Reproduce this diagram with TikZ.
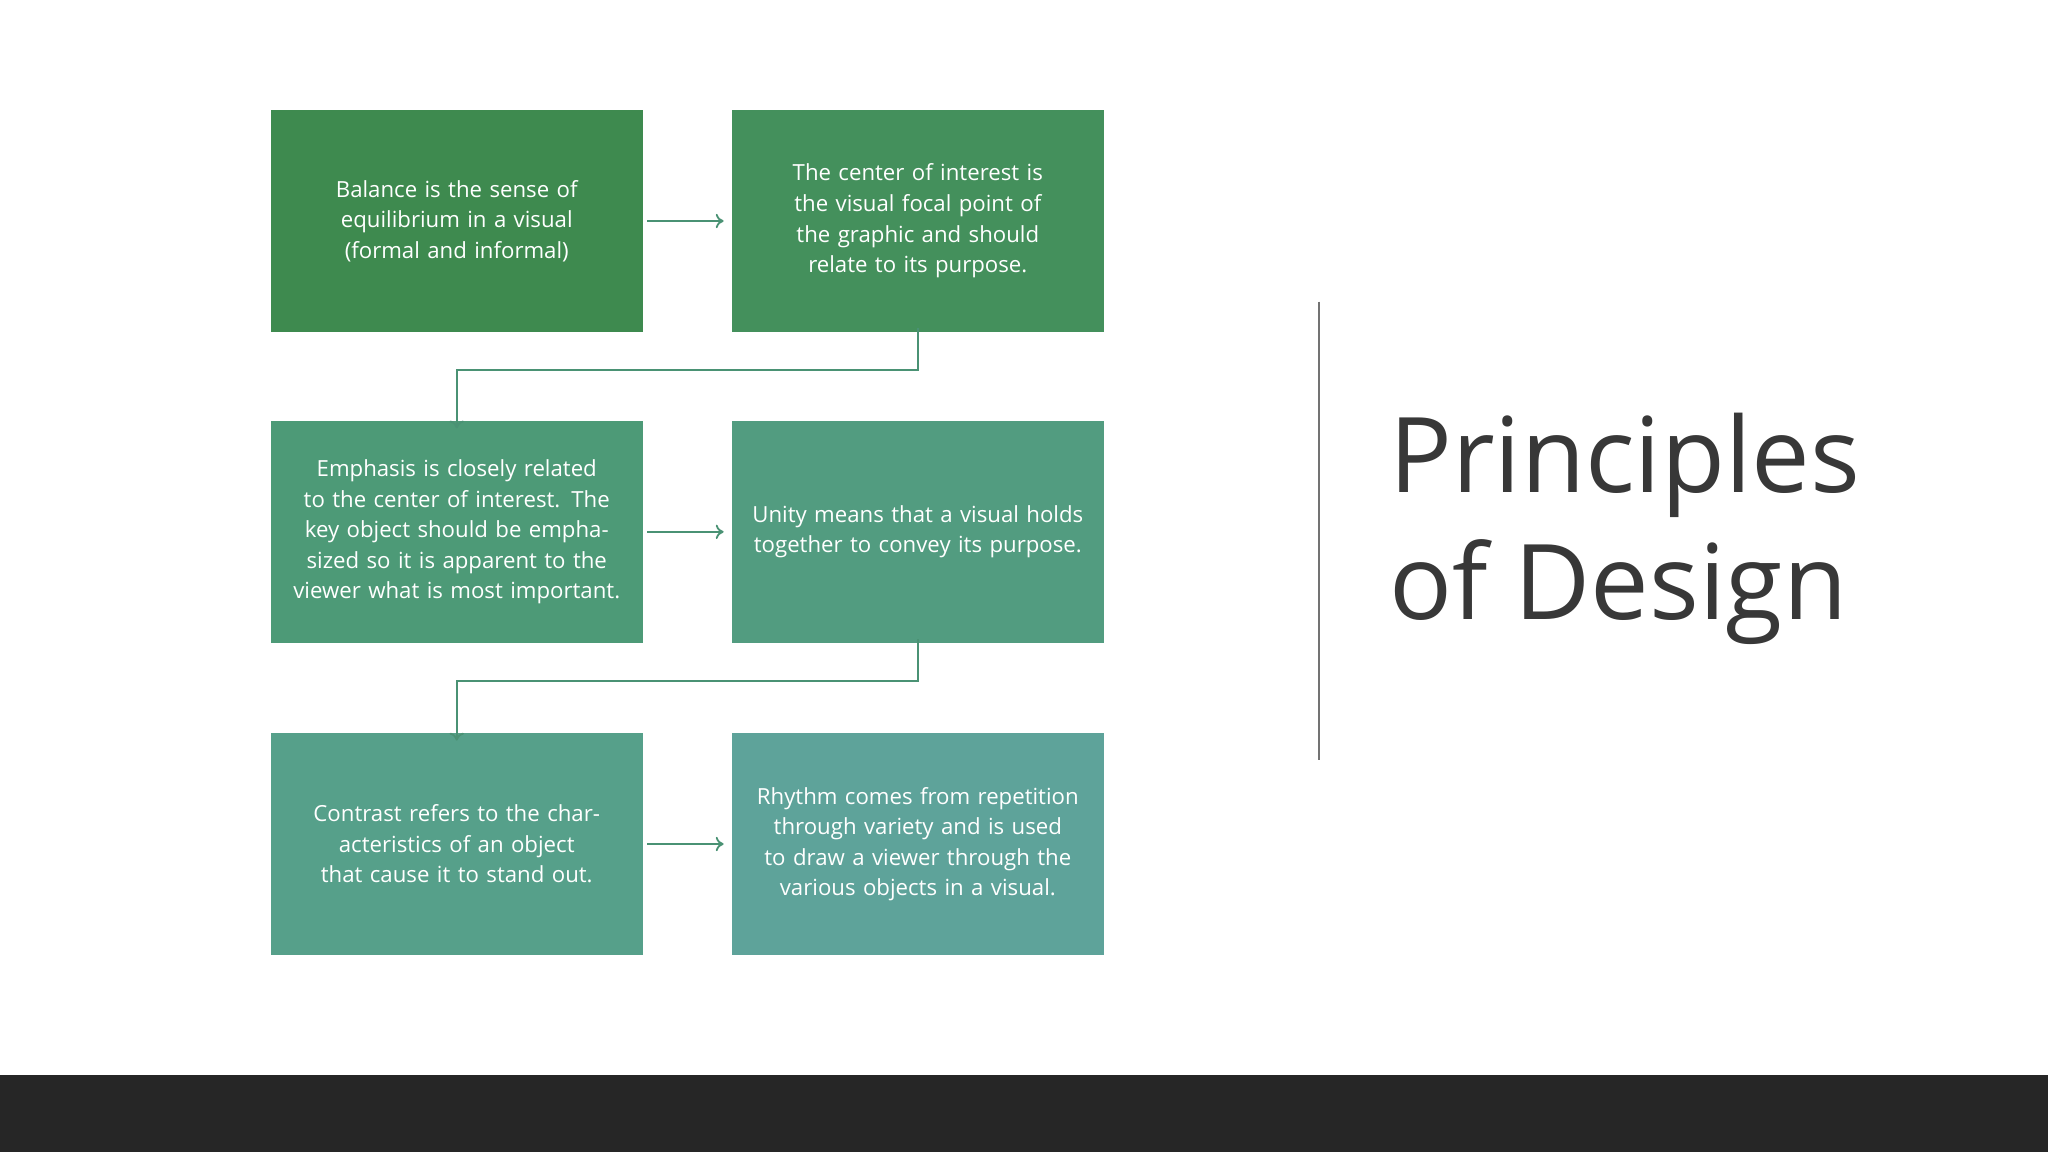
\documentclass[tikz,border=0pt]{standalone}
\usepackage{fontspec}
\setmainfont{Open Sans}
\usetikzlibrary{arrows.meta}
\definecolor{bA}{HTML}{3E8A4F}
\definecolor{bB}{HTML}{44905C}
\definecolor{bC}{HTML}{4D9A77}
\definecolor{bD}{HTML}{529C80}
\definecolor{bE}{HTML}{56A08A}
\definecolor{bF}{HTML}{5EA39A}
\definecolor{ln}{HTML}{4A9274}
\begin{document}
\begin{tikzpicture}[x=1pt,y=-1pt,
 box/.style={minimum width=285pt,minimum height=170pt,inner sep=0pt,text width=262pt,align=center,text=white,font=\fontsize{17}{23.4}\selectfont,anchor=north west},
 con/.style={draw=ln,line width=1.4pt,-{To[length=6pt,width=11pt]}}]
\useasboundingbox (0,0) rectangle (1568,882);
\fill[white] (0,0) rectangle (1568,882);
\fill[black!85] (0,823) rectangle (1568,882);
\node[box,fill=bA] (a) at (207,84) {Balance is the sense of equilibrium in a visual (formal and informal)};
\node[box,fill=bB] (b) at (560,84) {The center of interest is the visual focal point of the graphic and should relate to its purpose.};
\node[box,fill=bC] (c) at (207,322) {Emphasis is closely related to the center of interest. The key object should be emphasized so it is apparent to the viewer what is most important.};
\node[box,fill=bD] (d) at (560,322) {Unity means that a visual holds together to convey its purpose.};
\node[box,fill=bE] (e) at (207,561) {Contrast refers to the characteristics of an object that cause it to stand out.};
\node[box,fill=bF] (f) at (560,561) {Rhythm comes from repetition through variety and is used to draw a viewer through the various objects in a visual.};
\draw[con] ([xshift=3pt]a.east) -- ([xshift=-6pt]b.west);
\draw[con] ([xshift=3pt]c.east) -- ([xshift=-6pt]d.west);
\draw[con] ([xshift=3pt]e.east) -- ([xshift=-6pt]f.west);
\draw[con] ([yshift=3pt]b.south) -- ++(0,32) -| ([yshift=-6pt]c.north);
\draw[con] ([yshift=3pt]d.south) -- ++(0,32) -| ([yshift=-6pt]e.north);
\coordinate (l1) at (1010,231); \coordinate (l2) at (1010,582);
\draw[black!55,line width=1.5pt] (l1) -- (l2);
\node[anchor=west,align=left,text=black!78,font=\fontsize{80}{97}\selectfont] (t) at (1060,405) {Principles\\of Design};
\end{tikzpicture}
\end{document}
